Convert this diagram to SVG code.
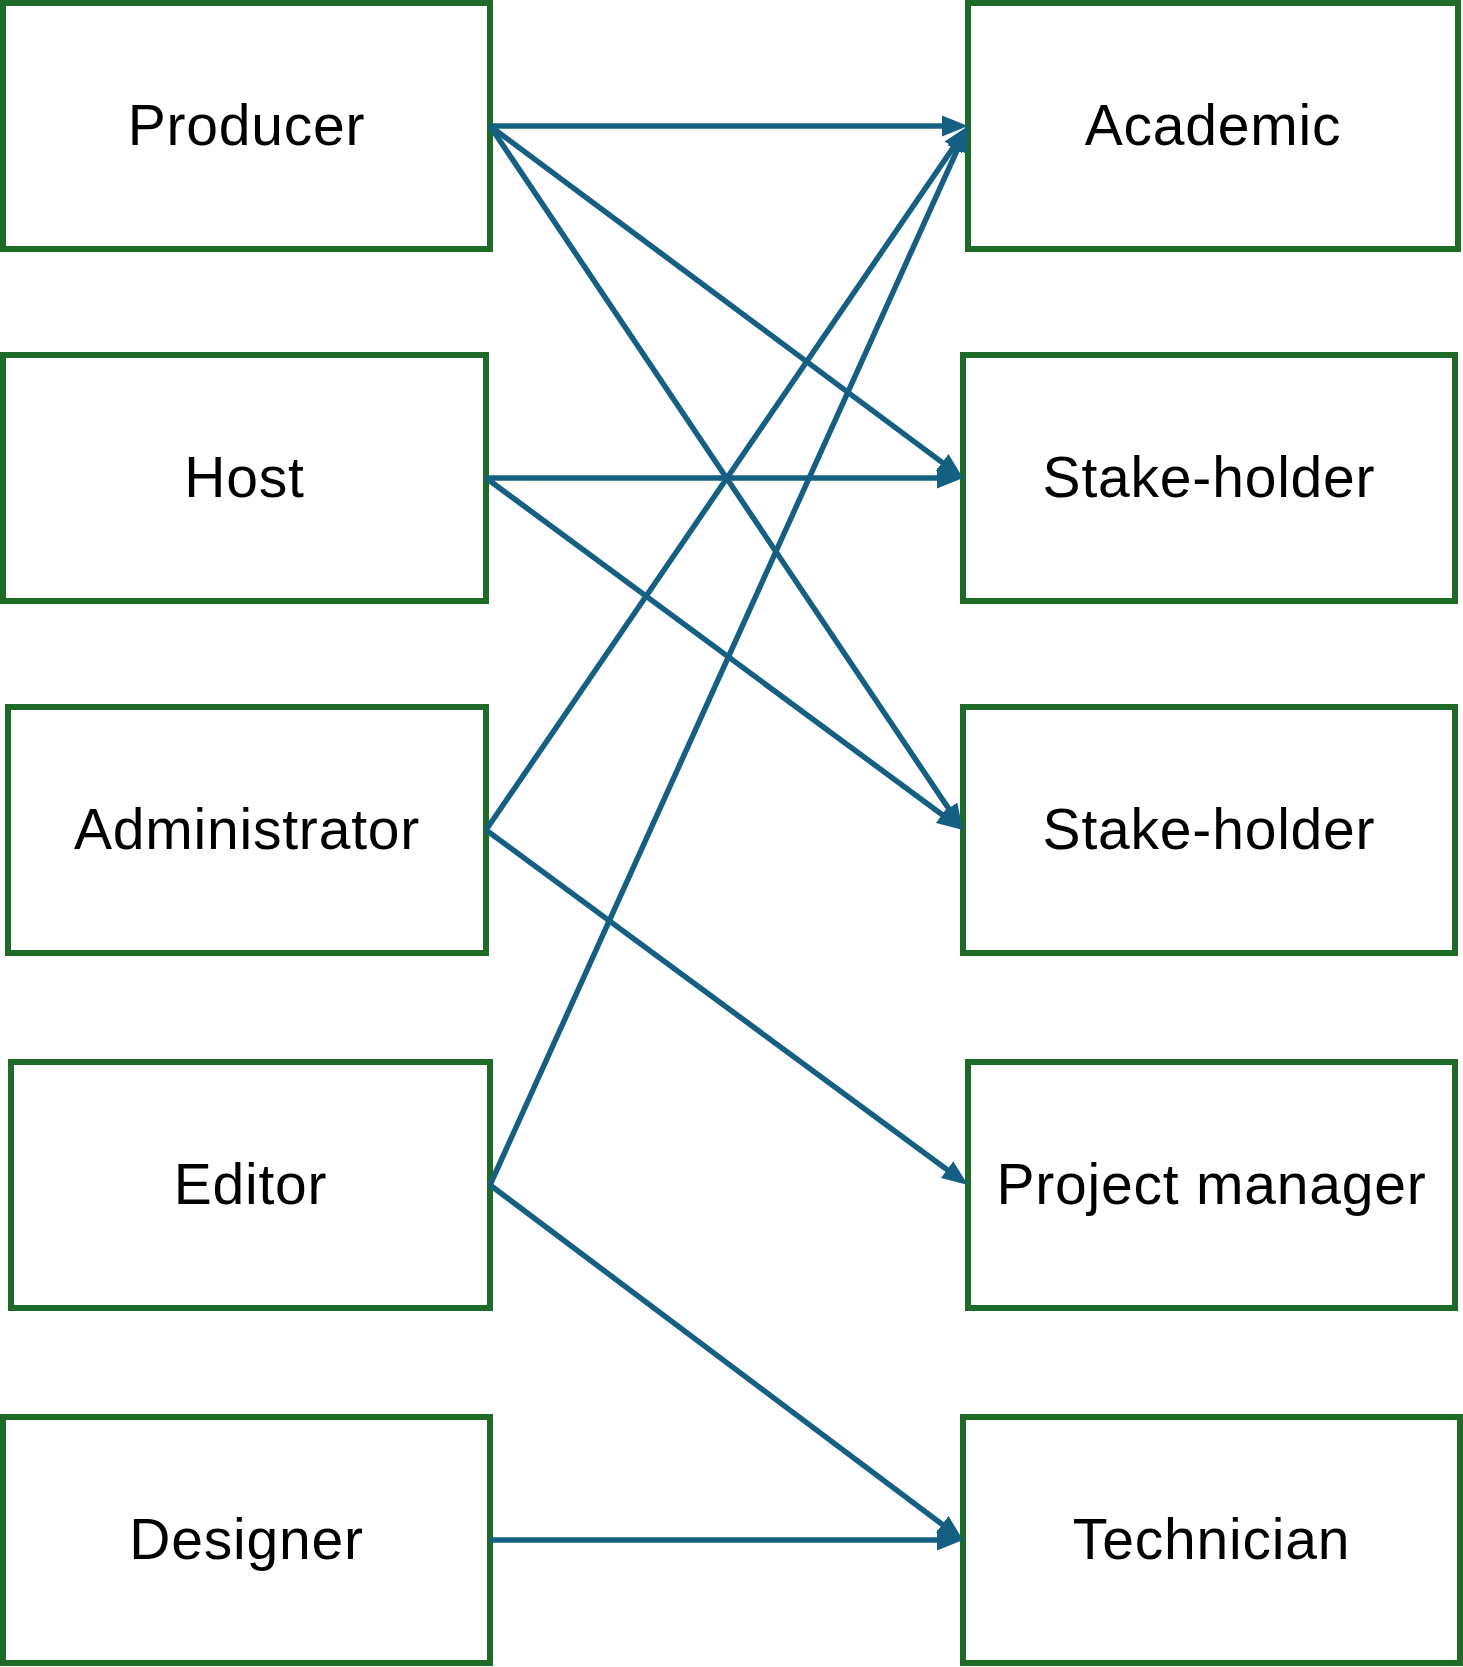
<svg xmlns="http://www.w3.org/2000/svg" width="1463" height="1667" viewBox="0 0 1463 1667">
<style>
.box{fill:#ffffff;stroke:#1d6b27;stroke-width:6}
.lbl{font-family:"Liberation Sans",Arial,sans-serif;font-size:57px;letter-spacing:0.8px;fill:#000000;text-anchor:middle}
.con{stroke:#156082;stroke-width:5.5;fill:none;marker-end:url(#arr)}
</style>
<defs>
<marker id="arr" markerUnits="userSpaceOnUse" markerWidth="26" markerHeight="21" refX="15" refY="10.5" orient="auto">
<path d="M0,0 L26,10.5 L0,21 z" fill="#156082"/>
</marker>
</defs>
<rect x="0" y="0" width="1463" height="1667" fill="#ffffff"/>
<g id="n-producer"><rect class="box" x="3" y="3" width="487" height="246"/><text class="lbl" x="246.5" y="145">Producer</text></g>
<g id="n-host"><rect class="box" x="3" y="355" width="483" height="246"/><text class="lbl" x="244.5" y="497">Host</text></g>
<g id="n-administrator"><rect class="box" x="8" y="707" width="478" height="246"/><text class="lbl" x="247" y="849">Administrator</text></g>
<g id="n-editor"><rect class="box" x="11" y="1062" width="479" height="246"/><text class="lbl" x="250.5" y="1204">Editor</text></g>
<g id="n-designer"><rect class="box" x="3" y="1417" width="487" height="246"/><text class="lbl" x="246.5" y="1559">Designer</text></g>
<g id="n-academic"><rect class="box" x="968" y="3" width="490" height="246"/><text class="lbl" x="1213" y="145">Academic</text></g>
<g id="n-stakeholder1"><rect class="box" x="963" y="355" width="492" height="246"/><text class="lbl" x="1209" y="497">Stake-holder</text></g>
<g id="n-stakeholder2"><rect class="box" x="963" y="707" width="492" height="246"/><text class="lbl" x="1209" y="849">Stake-holder</text></g>
<g id="n-projectmanager"><rect class="box" x="968" y="1062" width="487" height="246"/><text class="lbl" x="1211.5" y="1204">Project manager</text></g>
<g id="n-technician"><rect class="box" x="963" y="1417" width="497" height="246"/><text class="lbl" x="1211.5" y="1559">Technician</text></g>
<g id="connectors">
<line class="con" x1="490" y1="126" x2="957" y2="126"/>
<line class="con" x1="490" y1="126" x2="954.2" y2="471.4"/>
<line class="con" x1="490" y1="126" x2="956.9" y2="820.9"/>
<line class="con" x1="486" y1="478" x2="952" y2="478"/>
<line class="con" x1="486" y1="478" x2="954.1" y2="823.5"/>
<line class="con" x1="486" y1="830" x2="961.8" y2="135.1"/>
<line class="con" x1="486" y1="830" x2="959.1" y2="1178.5"/>
<line class="con" x1="490" y1="1185" x2="963.5" y2="136.0"/>
<line class="con" x1="490" y1="1185" x2="954.2" y2="1533.4"/>
<line class="con" x1="490" y1="1540" x2="952" y2="1540"/>
</g>
</svg>
